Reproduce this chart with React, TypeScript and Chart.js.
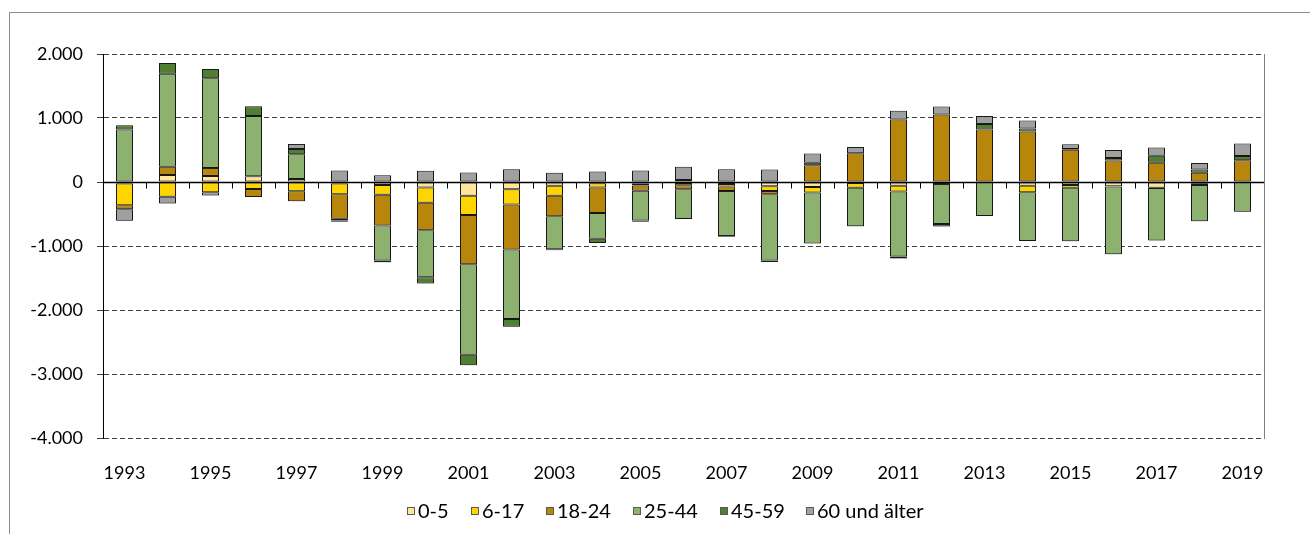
import React, { useEffect, useRef } from 'react';
import { Chart, registerables } from 'chart.js';

Chart.register(...registerables);

const years = [
  '1993', '1994', '1995', '1996', '1997', '1998', '1999', '2000', '2001', '2002',
  '2003', '2004', '2005', '2006', '2007', '2008', '2009', '2010', '2011', '2012',
  '2013', '2014', '2015', '2016', '2017', '2018', '2019',
];

const seriesLabels = ['0-5', '6-17', '18-24', '25-44', '45-59', '60 und älter'];

const age0to5 = [-25, 110, 95, 90, 45, -25, -45, -85, -215, -115, -60, -20, -25, -15, -30, -65, -80, -15, -60, -10, 0, -60, -45, -65, -90, -20, 0];
const age6to17 = [-340, -230, -160, -110, -145, -165, -155, -240, -300, -235, -155, -65, -30, -35, -40, -75, -85, -75, -90, -20, -5, -100, -45, -5, -5, -25, -5];
const age18to24 = [-60, 130, 125, -125, -155, -385, -480, -430, -770, -705, -320, -400, -80, -65, -70, -50, 260, 450, 975, 1055, 820, 790, 505, 335, 300, 145, 340];
const age25to44 = [820, 1450, 1400, 940, 390, -25, -545, -735, -1415, -1085, -515, -400, -465, -465, -705, -1035, -795, -600, -1015, -625, -525, -760, -835, -1060, -820, -570, -460];
const age45to59 = [65, 170, 145, 155, 80, -20, -30, -95, -165, -120, -15, -70, -20, 30, -10, -25, 40, -5, -30, -40, 85, 45, 10, 40, 110, 50, 65];
const age60plus = [-180, -105, -50, 0, 80, 180, 105, 175, 150, 200, 145, 165, 180, 210, 200, 195, 145, 95, 140, 125, 125, 125, 75, 125, 130, 100, 195];

const yMin = -4000;
const yMax = 2000;
const yStep = 1000;

const seriesValues = [age0to5, age6to17, age18to24, age25to44, age45to59, age60plus];
const seriesColors = ['#FFE699', '#FFD500', '#B8860B', '#8DB16F', '#507E32', '#A0A0A0'];

const FONT = 'Lato, "Open Sans", sans-serif';

function fmtThousands(v: number): string {
  const s = Math.abs(v).toString().replace(/\B(?=(\d{3})+(?!\d))/g, '.');
  return (v < 0 ? '-' : '') + s;
}

const decorPlugin = {
  id: 'decor',
  beforeDraw(chart: any) {
    const ctx = chart.ctx;
    ctx.save();
    ctx.strokeStyle = '#8C8C8C';
    ctx.lineWidth = 1;
    ctx.strokeRect(9.5, 12.5, 1400, 700);
    ctx.restore();
  },
  beforeDatasetsDraw(chart: any) {
    const ctx = chart.ctx;
    ctx.save();
    ctx.shadowColor = 'rgba(0,0,0,0.28)';
    ctx.shadowBlur = 2;
    ctx.shadowOffsetX = 1;
    ctx.shadowOffsetY = 1;
  },
  afterDatasetsDraw(chart: any) {
    const ctx = chart.ctx;
    ctx.restore();
    const a = chart.chartArea;
    const x = chart.scales.x;
    const y = chart.scales.y;
    const y0 = Math.round(y.getPixelForValue(0)) + 0.5;
    ctx.save();
    ctx.strokeStyle = '#7F7F7F';
    ctx.lineWidth = 1;
    ctx.beginPath();
    const xr = Math.round(a.right) + 0.5;
    ctx.moveTo(xr, Math.round(a.top));
    ctx.lineTo(xr, Math.round(a.bottom) + 1);
    ctx.stroke();
    ctx.strokeStyle = '#000';
    ctx.lineWidth = 1.5;
    ctx.beginPath();
    ctx.moveTo(a.left, y0);
    ctx.lineTo(a.right, y0);
    ctx.stroke();
    ctx.lineWidth = 1;
    ctx.beginPath();
    for (let i = 1; i < chart.data.labels.length; i++) {
      const bx = Math.round((x.getPixelForValue(i - 1) + x.getPixelForValue(i)) / 2) + 0.5;
      ctx.moveTo(bx, y0);
      ctx.lineTo(bx, y0 + 6);
    }
    ctx.stroke();
    ctx.restore();
  },
  afterDraw(chart: any) {
    const ctx = chart.ctx;
    const ds = chart.data.datasets;
    ctx.save();
    ctx.font = '20px ' + FONT;
    ctx.textBaseline = 'middle';
    ctx.textAlign = 'left';
    const box = 8;
    const gapText = 3;
    const gapItems = 22;
    const widths = ds.map((d: any) => ctx.measureText(d.label).width);
    let total = 0;
    widths.forEach((w: number) => { total += box + gapText + w; });
    total += gapItems * (ds.length - 1);
    let cx = 665.5 - total / 2;
    const yc = 511;
    ds.forEach((d: any, i: number) => {
      const bx = Math.round(cx);
      ctx.fillStyle = d.backgroundColor;
      ctx.fillRect(bx, yc - 4, box, box);
      ctx.strokeStyle = '#595959';
      ctx.lineWidth = 1;
      ctx.strokeRect(bx + 0.5, yc - 4 + 0.5, box - 1, box - 1);
      ctx.fillStyle = '#000';
      ctx.fillText(d.label, bx + box + gapText, yc + 1);
      cx += box + gapText + widths[i] + gapItems;
    });
    ctx.restore();
  },
};

export default function App() {
  const canvasRef = useRef<HTMLCanvasElement | null>(null);

  useEffect(() => {
    if (!canvasRef.current) return;
    Chart.defaults.font.family = FONT;
    const chart = new Chart(canvasRef.current, {
      type: 'bar',
      data: {
        labels: years,
        datasets: seriesLabels.map((label, i) => ({
          label,
          data: seriesValues[i],
          backgroundColor: seriesColors[i],
          borderColor: '#1A1A1A',
          borderWidth: 1,
          borderSkipped: false,
          barPercentage: 0.395,
          categoryPercentage: 1,
        })),
      },
      options: {
        responsive: false,
        animation: false,
        devicePixelRatio: 1,
        layout: { padding: { top: 54, right: 46, left: 0, bottom: 0 } },
        plugins: {
          legend: { display: false },
          tooltip: { enabled: false },
        },
        scales: {
          x: {
            stacked: true,
            grid: { display: false },
            border: { display: false },
            ticks: {
              autoSkip: false,
              maxRotation: 0,
              minRotation: 0,
              padding: 16,
              color: '#000',
              font: { size: 18, family: FONT },
              callback: (_v: any, idx: number) => (idx % 2 === 0 ? years[idx] : ''),
            },
            afterFit: (scale: any) => { scale.height = 96; },
          },
          y: {
            stacked: true,
            min: yMin,
            max: yMax,
            ticks: {
              stepSize: yStep,
              padding: 14,
              color: '#000',
              font: { size: 18, family: FONT },
              callback: (v: any) => fmtThousands(Number(v)),
            },
            grid: {
              color: (c: any) => (c.tick && c.tick.value === 0 ? 'rgba(0,0,0,0)' : '#3F3F3F'),
              tickColor: '#3F3F3F',
              tickLength: 6,
              lineWidth: 1,
            },
            border: {
              display: true,
              color: '#000',
              width: 1,
              dash: (c: any) => (c.type === 'tick' ? [5, 3] : []),
            },
            afterFit: (scale: any) => { scale.width = 103; },
          },
        },
      },
      plugins: [decorPlugin],
    } as any);
    return () => chart.destroy();
  }, []);

  return (
    <div style={{ position: 'fixed', left: 0, top: 0, width: 1310, height: 534, background: '#fff' }}>
      <canvas ref={canvasRef} width={1310} height={534} style={{ display: 'block' }} />
    </div>
  );
}
